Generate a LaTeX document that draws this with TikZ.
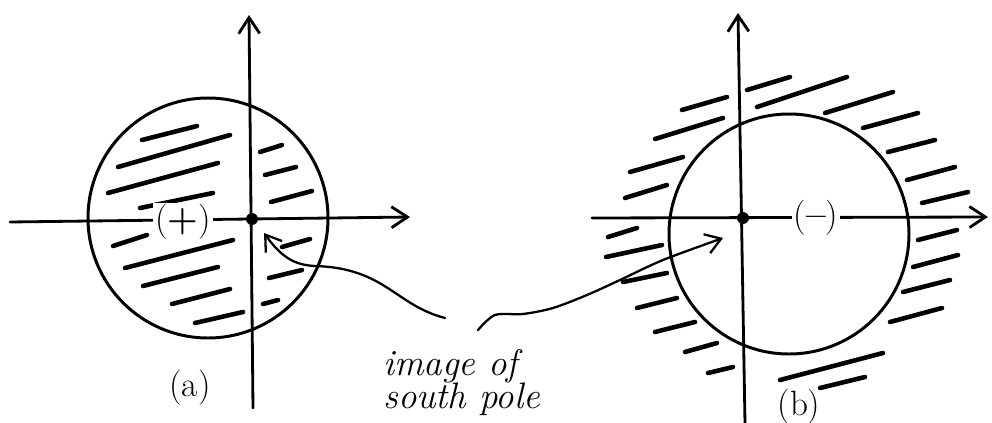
\documentclass[tikz,border=0pt]{standalone}
\usetikzlibrary{arrows.meta}

\begin{document}
\begin{tikzpicture}[
  x=0.02cm,
  y=-0.02cm,
  line join=round,
  line cap=round,
  axis/.style={draw=black,line width=1.6pt,-{Straight Barb[length=3.2mm,width=4.2mm,line width=1.6pt]}},
  rim/.style={draw=black,line width=1.7pt},
  hatch/.style={draw=black,line width=2.6pt},
  pointer/.style={draw=black,line width=1.3pt,-{Straight Barb[length=3mm,width=4mm,line width=1.3pt]}},
  sign/.style={fill=white,inner sep=1pt,font=\fontsize{20}{24}\selectfont},
  caption/.style={font=\fontsize{20}{24}\selectfont}
]
  \useasboundingbox (0,0) rectangle (992,423);

  % Panel (a): disc shaded inside.
  \coordinate (Oa) at (252,219);
  \draw[axis] (10,222) -- (410,217);
  \draw[axis] (253,408) -- (249,15);
  \draw[rim] (208,218) circle[radius=120];
  \foreach \a/\b in {{142,140}/{197,126},{118,167}/{230,135},{108,193}/{218,163},
                     {140,208}/{213,193},{113,246}/{147,235},{125,268}/{233,240},
                     {143,286}/{218,267},{172,304}/{230,289},{195,323}/{243,312},
                     {260,152}/{282,145},{265,175}/{296,167},{271,202}/{312,191},
                     {282,247}/{310,239},{269,278}/{302,270},{263,304}/{278,300}} {
    \draw[hatch] (\a) -- (\b);
  }
  \node[sign] (plus) at (183,222) {(\textbf{+})};
  \fill (Oa) circle[radius=1.2mm];
  \node[caption] (capa) at (190,388) {(a)};

  % Panel (b): disc shaded outside.
  \coordinate (Ob) at (743,218);
  \draw[axis] (592,218) -- (988,217);
  \draw[axis] (745,423) -- (738,13);
  \draw[rim] (789,234) circle[radius=120];
  \foreach \a/\b in {{747,90}/{790,77},{757,107}/{847,77},{682,110}/{727,97},
                     {825,113}/{893,92},{655,139}/{723,118},{863,128}/{918,113},
                     {888,152}/{935,140},{630,172}/{683,157},{907,180}/{955,167},
                     {625,198}/{667,185},{922,203}/{968,192},
                     {608,237}/{637,228},{606,257}/{662,245},{623,282}/{667,273},
                     {637,308}/{677,298},{655,332}/{695,322},{685,352}/{717,343},
                     {708,373}/{733,367},
                     {918,240}/{957,230},{913,267}/{958,255},{903,292}/{950,280},
                     {890,322}/{942,308},{780,380}/{883,353},{820,388}/{865,377}} {
    \draw[hatch] (\a) -- (\b);
  }
  \node[sign] (minus) at (816,218) {(\textbf{--})};
  \fill (Ob) circle[radius=1.2mm];
  \node[caption] (capb) at (799,407) {(b)};

  % Shared annotation pointing at both origins.
  \node[caption,align=left,anchor=north west,inner sep=0pt,font=\fontsize{21}{19}\itshape] (south) at (383,349) {image of\\south pole};
  \coordinate (sa) at (445,318);
  \coordinate (sb) at (478,330);
  \coordinate (ta) at (264,233);
  \coordinate (tb) at (723,238);
  \draw[pointer] (sa) .. controls (395,305) and (385,268) .. (315,266)
                 .. controls (295,265) and (282,258) .. (ta);
  \draw[pointer] plot[smooth] coordinates {(sb) (495,315) (523,314) (553,308) (587,295) (620,280) (663,260) (tb)};
\end{tikzpicture}
\end{document}
